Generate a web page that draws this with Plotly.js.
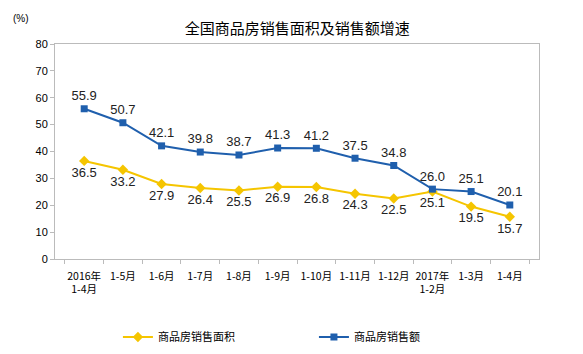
<!DOCTYPE html>
<html><head><meta charset="utf-8">
<script src="https://cdn.plot.ly/plotly-3.0.1.min.js"></script>
<style>body{margin:0;background:#fff}#c{width:583px;height:354px}</style>
</head><body><div id="c"></div>
<script>
const categories = ["2016年<br>1-4月","1-5月","1-6月","1-7月","1-8月","1-9月","1-10月","1-11月","1-12月","2017年<br>1-2月","1-3月","1-4月"];
const areaGrowth = [36.5,33.2,27.9,26.4,25.5,26.9,26.8,24.3,22.5,25.1,19.5,15.7];
const salesGrowth = [55.9,50.7,42.1,39.8,38.7,41.3,41.2,37.5,34.8,26.0,25.1,20.1];
const yTicks = [0,10,20,30,40,50,60,70,80];

const fmt = v => v.toFixed(1);
const traces = [
 {x:categories, y:areaGrowth, name:"商品房销售面积", type:"scatter", mode:"lines+markers+text",
  line:{color:"#F5C500", width:2}, marker:{symbol:"diamond", size:8, color:"#F5C500"},
  text:areaGrowth.map(fmt), textposition:"bottom center", legend:"legend",
  textfont:{family:"Liberation Sans, Arial", size:13, color:"#222"}},
 {x:categories, y:salesGrowth, name:"商品房销售额", type:"scatter", mode:"lines+markers+text",
  line:{color:"#1F5FAD", width:2}, marker:{symbol:"square", size:7, color:"#1F5FAD"},
  text:salesGrowth.map(fmt), textposition:"top center", legend:"legend2",
  textfont:{family:"Liberation Sans, Arial", size:13, color:"#222"}}
];
const legFont = {family:"Noto Sans CJK SC", size:11, color:"#000"};
const layout = {
 width:583, height:354,
 margin:{l:55, r:44, t:44, b:95, autoexpand:false},
 paper_bgcolor:"#fff", plot_bgcolor:"#fff",
 title:{text:"全国商品房销售面积及销售额增速", x:0.51, xanchor:"center", y:0.92, yanchor:"middle",
  font:{family:"Noto Sans CJK SC", size:15, color:"#000"}},
 font:{family:"Noto Sans CJK SC", size:11, color:"#000"},
 xaxis:{type:"category", tickson:"boundaries", ticks:"outside", ticklen:4, tickcolor:"#bbb",
  showline:true, linecolor:"#bbb", mirror:true, showgrid:false, zeroline:false,
  tickangle:0, automargin:false, ticklabelstandoff:7,
  tickfont:{family:"Noto Sans CJK SC", size:10.5, color:"#000"}, fixedrange:true},
 yaxis:{range:[0,80], tickvals:yTicks, ticks:"outside", ticklen:4, tickcolor:"#bbb",
  showline:true, linecolor:"#bbb", mirror:true, showgrid:false, zeroline:false, automargin:false,
  tickfont:{family:"Liberation Sans Narrow, Liberation Sans", size:11, color:"#000"}},
 showlegend:true,
 legend:{orientation:"h", x:0.13, xanchor:"left", yref:"container", y:0.048, yanchor:"middle",
  font:legFont, itemwidth:30},
 legend2:{orientation:"h", x:0.535, xanchor:"left", yref:"container", y:0.048, yanchor:"middle",
  font:legFont, itemwidth:30},
 annotations:[{text:"(%)", xref:"paper", yref:"paper", x:-0.07, y:1.12, xanchor:"center", yanchor:"middle",
  showarrow:false, font:{family:"Liberation Sans", size:10, color:"#000"}}]
};
Plotly.newPlot("c", traces, layout, {displayModeBar:false, staticPlot:true});
</script></body></html>
